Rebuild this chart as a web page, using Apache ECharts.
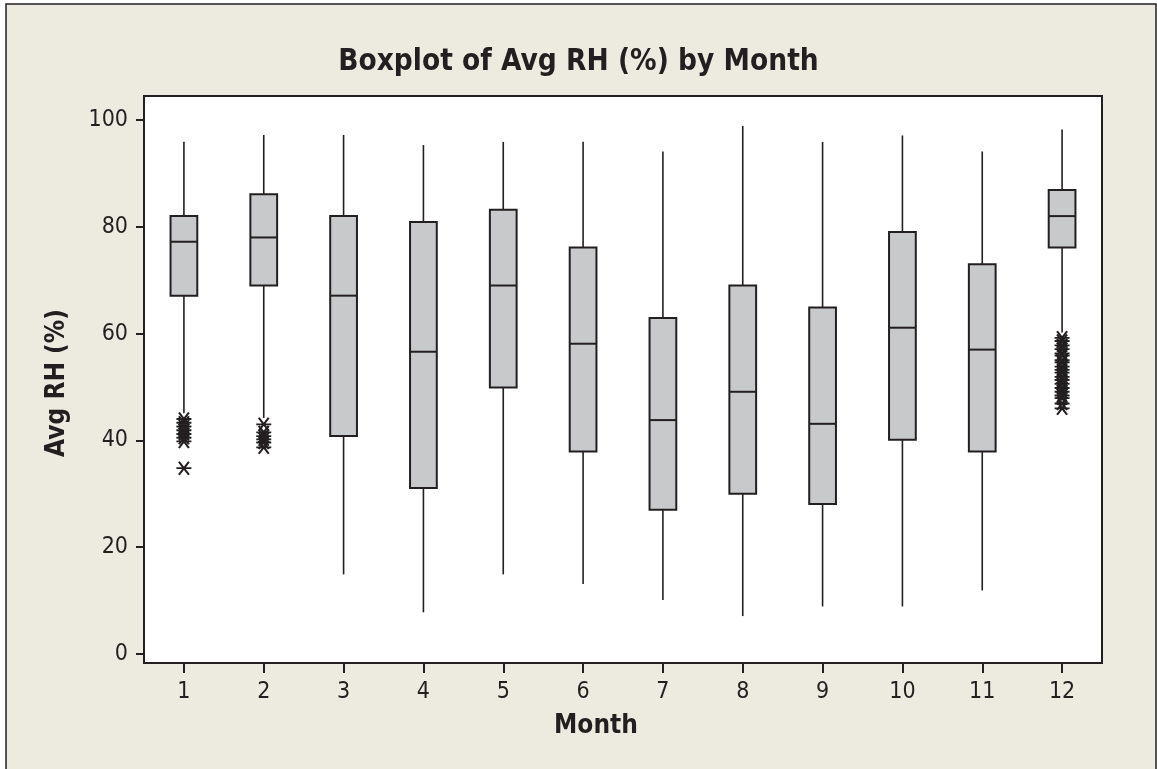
<!DOCTYPE html>
<html>
<head>
<meta charset="utf-8">
<script src="https://cdn.jsdelivr.net/npm/echarts@6/dist/echarts.min.js"></script>
<style>
  html, body { margin: 0; padding: 0; background: #ffffff; }
  #chart { width: 1157px; height: 769px; }
</style>
</head>
<body>
<div id="chart"></div>
<script>
// ---- data ----
const months = ['1', '2', '3', '4', '5', '6', '7', '8', '9', '10', '11', '12'];
const whiskerLow  = [45.1, 44.2, 14.9, 7.8, 14.9, 13.1, 10.1, 7.1, 8.9, 8.9, 11.9, 60.2];
const q1          = [67.1, 69.0, 40.8, 31.1, 49.9, 37.9, 27.0, 30.0, 28.1, 40.1, 37.9, 76.1];
const median      = [77.2, 78.0, 67.1, 56.6, 69.0, 58.1, 43.8, 49.1, 43.1, 61.1, 57.0, 82.0];
const q3          = [82.0, 86.1, 82.0, 80.9, 83.2, 76.1, 62.9, 69.0, 64.9, 79.0, 73.0, 86.9];
const whiskerHigh = [95.9, 97.2, 97.2, 95.3, 95.9, 95.9, 94.1, 98.9, 95.9, 97.1, 94.1, 98.2];
const outliersJan = [44.0, 43.3, 42.6, 41.9, 41.2, 40.5, 39.8, 34.8];
const outliersFeb = [43.0, 41.5, 40.8, 40.2, 39.6, 38.7];
const outliersDec = [59.2, 58.6, 57.8, 57.1, 56.3, 55.9, 55.0, 54.6, 53.8, 53.2, 52.7, 51.9, 51.3, 50.6, 49.8, 49.1, 48.4, 47.9, 46.9, 46.0];
const yTicks = [0, 20, 40, 60, 80, 100];
const yRange = [-1.69, 104.49];

// ---- build option ----
const INK = '#231f20';
const FONT = "'DejaVu Sans Condensed', 'DejaVu Sans', sans-serif";

const boxData = months.map((m, i) => [i, whiskerLow[i], q1[i], median[i], q3[i], whiskerHigh[i]]);
const outlierData = []
  .concat(outliersJan.map(v => [0, v]))
  .concat(outliersFeb.map(v => [1, v]))
  .concat(outliersDec.map(v => [11, v]));

function renderBox(params, api) {
  const i = api.value(0);
  const x = api.coord([i, 0])[0];
  const bw = api.size([1, 0])[0] * 0.335;
  const yLo = api.coord([i, api.value(1)])[1];
  const yQ1 = api.coord([i, api.value(2)])[1];
  const yMed = api.coord([i, api.value(3)])[1];
  const yQ3 = api.coord([i, api.value(4)])[1];
  const yHi = api.coord([i, api.value(5)])[1];
  const lineStyle = { stroke: INK, lineWidth: 1.6 };
  return {
    type: 'group',
    children: [
      { type: 'line', shape: { x1: x, y1: yHi, x2: x, y2: yQ3 }, style: lineStyle },
      { type: 'line', shape: { x1: x, y1: yQ1, x2: x, y2: yLo }, style: lineStyle },
      { type: 'rect', shape: { x: x - bw / 2, y: yQ3, width: bw, height: yQ1 - yQ3 },
        style: { fill: '#c8c9cb', stroke: INK, lineWidth: 2 } },
      { type: 'line', shape: { x1: x - bw / 2, y1: yMed, x2: x + bw / 2, y2: yMed },
        style: { stroke: INK, lineWidth: 2 } }
    ]
  };
}

const option = {
  backgroundColor: '#ffffff',
  animation: false,
  title: {
    text: 'Boxplot of Avg RH (%) by Month',
    left: 'center',
    top: 42,
    textStyle: { fontFamily: FONT, fontSize: 29.5, fontWeight: 'bold', color: INK }
  },
  graphic: [
    { type: 'rect', z: -10, silent: true,
      shape: { x: 6, y: 4, width: 1150, height: 790 },
      style: { fill: '#edeae0', stroke: INK, lineWidth: 1.5 } },
    { type: 'text', silent: true, x: 596, y: 726,
      style: { text: 'Month', fontFamily: FONT, fontSize: 26, fontWeight: 'bold', fill: INK,
               align: 'center', verticalAlign: 'middle' } },
    { type: 'text', silent: true, x: 57, y: 383, rotation: Math.PI / 2,
      style: { text: 'Avg RH (%)', fontFamily: FONT, fontSize: 26, fontWeight: 'bold', fill: INK,
               align: 'center', verticalAlign: 'middle' } }
  ],
  grid: {
    left: 144, right: 55, top: 96, bottom: 106,
    show: true, backgroundColor: '#ffffff', borderColor: INK, borderWidth: 2,
    containLabel: false, outerBoundsMode: 'none'
  },
  xAxis: {
    type: 'category',
    data: months,
    axisLine: { show: true, onZero: false, lineStyle: { color: INK, width: 2 } },
    axisTick: { show: true, inside: false, alignWithLabel: true, length: 10, lineStyle: { color: INK, width: 2 } },
    axisLabel: { fontFamily: FONT, fontSize: 23, color: INK, margin: 18 },
    splitLine: { show: false }
  },
  yAxis: {
    type: 'value',
    min: yRange[0],
    max: yRange[1],
    axisLine: { show: true, onZero: false, lineStyle: { color: INK, width: 2 } },
    axisTick: { show: true, inside: false, length: 8, customValues: yTicks, lineStyle: { color: INK, width: 2 } },
    axisLabel: { fontFamily: FONT, fontSize: 23, color: INK, margin: 16, customValues: yTicks },
    splitLine: { show: false }
  },
  series: [
    {
      type: 'custom',
      renderItem: renderBox,
      encode: { x: 0, y: [1, 2, 3, 4, 5] },
      data: boxData,
      z: 3
    },
    {
      type: 'scatter',
      data: outlierData,
      symbol: 'path://M0,6 L12,6 M2,0 L10,12 M10,0 L2,12',
      symbolSize: [15, 13],
      itemStyle: { color: 'rgba(0,0,0,0)', borderColor: INK, borderWidth: 2, opacity: 1 },
      z: 4
    }
  ]
};

const chart = echarts.init(document.getElementById('chart'), null, { renderer: 'canvas' });
chart.setOption(option);
</script>
</body>
</html>
